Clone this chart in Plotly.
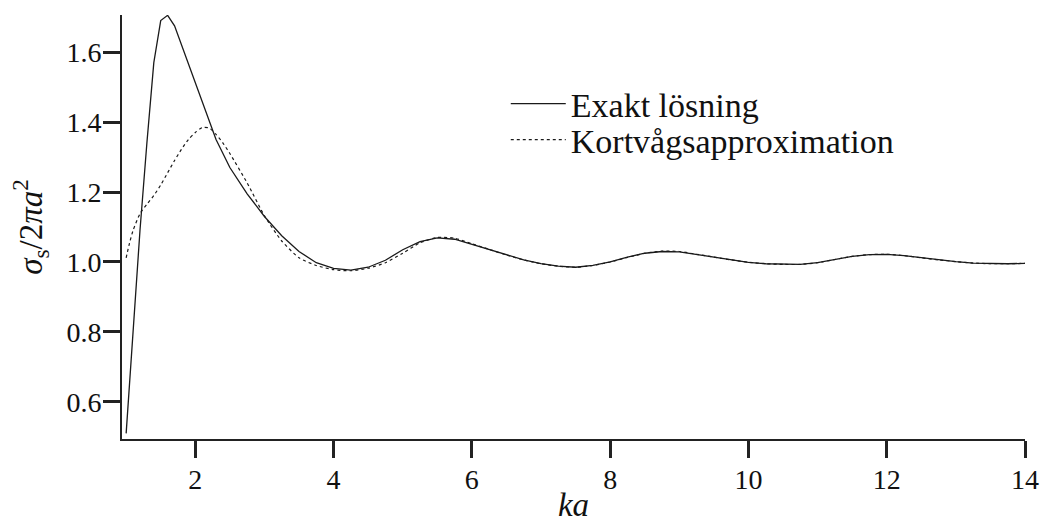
import plotly.graph_objects as go

# Exakt lösning
ka_exact = [1.0, 1.1, 1.2, 1.3, 1.4, 1.5, 1.6, 1.7, 1.8, 1.9, 2.0, 2.1, 2.2, 2.3, 2.4, 2.5,
            2.75, 3.0, 3.25, 3.5, 3.75, 4.0, 4.25, 4.5, 4.75, 5.0, 5.25, 5.5, 5.75, 6.0,
            6.25, 6.5, 6.75, 7.0, 7.25, 7.5, 7.75, 8.0, 8.25, 8.5, 8.75, 9.0, 9.25, 9.5,
            9.75, 10.0, 10.25, 10.5, 10.75, 11.0, 11.25, 11.5, 11.75, 12.0, 12.25, 12.5,
            12.75, 13.0, 13.25, 13.5, 13.75, 14.0]
sigma_exact = [0.51, 0.80, 1.09, 1.34, 1.57, 1.69, 1.705, 1.675, 1.62, 1.565, 1.51, 1.455,
               1.40, 1.35, 1.31, 1.27, 1.195, 1.13, 1.075, 1.03, 0.998, 0.982, 0.977, 0.985,
               1.005, 1.035, 1.058, 1.069, 1.065, 1.05, 1.036, 1.02, 1.006, 0.995, 0.988,
               0.985, 0.99, 1.0, 1.014, 1.025, 1.03, 1.029, 1.022, 1.013, 1.006, 0.999,
               0.995, 0.993, 0.993, 0.998, 1.007, 1.016, 1.021, 1.022, 1.018, 1.012, 1.006,
               1.001, 0.997, 0.995, 0.995, 0.996]

# Kortvågsapproximation
ka_approx = [1.0, 1.05, 1.1, 1.2, 1.3, 1.4, 1.5, 1.6, 1.7, 1.8, 1.9, 2.0, 2.1, 2.2, 2.3,
             2.4, 2.5, 2.75, 3.0, 3.25, 3.5, 3.75, 4.0, 4.25, 4.5, 4.75, 5.0, 5.25, 5.5,
             5.75, 6.0, 6.25, 6.5, 6.75, 7.0, 7.25, 7.5, 7.75, 8.0, 8.25, 8.5, 8.75, 9.0,
             9.25, 9.5, 9.75, 10.0, 10.25, 10.5, 10.75, 11.0, 11.25, 11.5, 11.75, 12.0,
             12.25, 12.5, 12.75, 13.0, 13.25, 13.5, 13.75, 14.0]
sigma_approx = [1.012, 1.055, 1.09, 1.138, 1.165, 1.19, 1.22, 1.255, 1.29, 1.322, 1.35,
                1.37, 1.384, 1.383, 1.365, 1.34, 1.31, 1.226, 1.132, 1.06, 1.012, 0.99,
                0.978, 0.975, 0.982, 0.998, 1.025, 1.055, 1.07, 1.068, 1.052, 1.036, 1.02,
                1.006, 0.995, 0.988, 0.985, 0.99, 1.0, 1.013, 1.025, 1.031, 1.03, 1.022,
                1.014, 1.006, 0.999, 0.995, 0.993, 0.993, 0.998, 1.007, 1.016, 1.021,
                1.022, 1.018, 1.012, 1.006, 1.001, 0.997, 0.995, 0.995, 0.996]

x_ticks = [2, 4, 6, 8, 10, 12, 14]
y_ticks = [0.6, 0.8, 1.0, 1.2, 1.4, 1.6]

FONT = "Liberation Serif"
INK = "#1a1a1a"

fig = go.Figure()
fig.add_trace(go.Scatter(x=ka_exact, y=sigma_exact, mode="lines",
                         name="Exakt lösning", legend="legend",
                         line=dict(color=INK, width=1.3)))
fig.add_trace(go.Scatter(x=ka_approx, y=sigma_approx, mode="lines",
                         name="Kortvågsapproximation", legend="legend2",
                         line=dict(color=INK, width=1.2, dash="dot", shape="spline", smoothing=0.6)))

axis_common = dict(showgrid=False, zeroline=False, showline=True, linecolor="#222",
                   linewidth=2, ticks="outside", ticklen=17, tickwidth=2.5,
                   tickcolor="#222", tickfont=dict(family=FONT, size=28, color="#111"))

leg_common = dict(xanchor="left", yanchor="middle",
                  font=dict(family=FONT, size=34, color="#111"),
                  bgcolor="rgba(0,0,0,0)", itemwidth=55)

fig.update_layout(
    template="simple_white",
    width=1043, height=523,
    margin=dict(l=122, r=18, t=15, b=84),
    paper_bgcolor="white", plot_bgcolor="white",
    font=dict(family=FONT, color="#111"),
    showlegend=True,
    legend=dict(x=0.425, y=0.79, **leg_common),
    legend2=dict(x=0.425, y=0.705, **leg_common),
    xaxis=dict(range=[0.94, 14], tickvals=x_ticks, ticktext=[str(v) for v in x_ticks],
               title=dict(text="<i>ka</i>", font=dict(family=FONT, size=33), standoff=10),
               automargin=False, ticklabelstandoff=-3, **axis_common),
    yaxis=dict(range=[0.494, 1.706], tickvals=y_ticks, ticktext=[f"{v:.1f}" for v in y_ticks],
               title=dict(text="<i>σ</i><sub>s</sub>/2<i>πa</i><sup>2</sup>",
                          font=dict(family=FONT, size=33), standoff=14),
               automargin=False, ticklabelstandoff=-4, **axis_common),
)

fig.write_html("out.html", config={"displayModeBar": False},
               post_script="document.body.style.margin='0px';document.body.style.overflow='hidden';")
